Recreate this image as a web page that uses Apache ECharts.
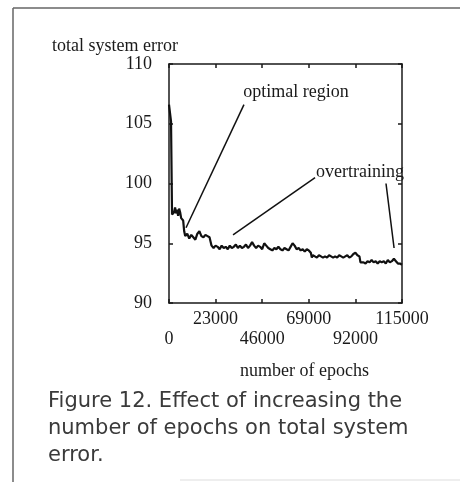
<!DOCTYPE html>
<html>
<head>
<meta charset="utf-8">
<script src="https://cdn.jsdelivr.net/npm/echarts@6/dist/echarts.min.js"></script>
<style>
  html, body { margin: 0; padding: 0; background: #fff; }
  #chart { width: 460px; height: 482px; }
</style>
</head>
<body>
<div id="chart"></div>
<script>
// Training run: total system error recorded against epoch count
const epochs = [
  0, 500, 1000, 1500, 2500, 3000, 3500, 4000, 4500, 5000, 5500, 6000, 7000, 7500, 8000,
  9000, 10000, 11000, 12000, 13000, 14000, 15000, 16000, 17000, 18000, 19000, 20000,
  21000, 22000, 23000, 24000, 25000, 26000, 27000, 28000, 29000, 30000, 31000, 32000,
  33000, 34000, 35000, 36000, 37000, 38000, 39000, 40000, 41000, 42000, 43000, 44000,
  45000, 46000, 47000, 48000, 49000, 50000, 51000, 52000, 53000, 54000, 55000, 56000,
  57000, 58000, 59000, 60000, 61000, 62000, 63000, 64000, 65000, 66000, 67000, 68000,
  69000, 70000, 70500, 71000, 72000, 73000, 74000, 75000, 76000, 77000, 78000, 79000,
  80000, 81000, 82000, 83000, 84000, 85000, 86000, 87000, 88000, 89000, 90000, 91000,
  92000, 93000, 94000, 94500, 95000, 96000, 97000, 98000, 99000, 100000, 101000, 102000,
  103000, 104000, 105000, 106000, 107000, 108000, 109000, 110000, 111000, 112000, 113000,
  114000, 115000
];
const systemError = [
  106.6, 106.7, 105.2, 97.4, 97.6, 98.0, 97.5, 97.8, 97.3, 97.9, 97.6, 97.1, 96.9, 96.0, 95.6,
  95.8, 95.4, 95.7, 95.5, 95.3, 95.8, 96.0, 95.6, 95.5, 95.7, 95.6, 95.5,
  94.8, 94.6, 94.8, 94.7, 94.5, 94.8, 94.6, 94.7, 94.5, 94.8, 94.6, 94.7,
  94.9, 94.6, 94.8, 94.6, 94.7, 94.9, 94.6, 94.8, 95.1, 94.8, 94.6, 94.8,
  94.7, 94.5, 95.0, 94.8, 94.6, 94.5, 94.4, 94.6, 94.5, 94.7, 94.5, 94.4,
  94.6, 94.5, 94.4, 94.7, 95.0, 94.8, 94.5, 94.6, 94.4, 94.5, 94.3, 94.5,
  94.4, 94.2, 93.8, 94.0, 93.9, 93.8, 94.0, 93.9, 93.8, 93.9, 93.8, 94.0,
  93.9, 93.8, 93.9, 93.8, 94.0, 93.9, 93.8, 93.9, 94.0, 93.8, 93.9, 94.1,
  94.2, 94.0, 93.9, 93.4, 93.3, 93.4, 93.3, 93.5, 93.4, 93.6, 93.4, 93.5,
  93.3, 93.5, 93.4, 93.5, 93.3, 93.6, 93.4, 93.5, 93.7, 93.5, 93.3,
  93.3, 93.2
];

// Axis ranges and ticks
const xMin = 0, xMax = 115000, xStep = 23000;
const yMin = 90, yMax = 110, yStep = 5;

// Callouts: text anchor and leader lines, in data units [epochs, error]
const callouts = [
  { text: 'optimal region', at: [62700, 107.6], lines: [[[37000, 106.6], [8400, 96.3]]] },
  { text: 'overtraining', at: [94300, 100.9], lines: [[[72100, 100.5], [31600, 95.7]], [[107100, 100.0], [111100, 94.6]]] }
];

const serif = '"Liberation Serif", "DejaVu Serif", serif';
const ink = '#1a1a1a';

const chart = echarts.init(document.getElementById('chart'), null, { renderer: 'canvas' });

const seriesData = epochs.map((e, i) => [e, systemError[i]]);

const leaderLines = [];
callouts.forEach(c => c.lines.forEach(l => leaderLines.push([{ coord: l[0] }, { coord: l[1] }])));

const axisBox = { show: true, onZero: false, lineStyle: { color: ink, width: 1.5 } };
const tickIn = { show: true, inside: true, length: 4, lineStyle: { color: ink, width: 1.5 } };
const isEvenTick = (v) => Math.round(v / xStep) % 2 === 0;
const xLabelBase = {
  color: ink, fontFamily: serif, fontSize: 18,
  showMinLabel: true, showMaxLabel: true, hideOverlap: false
};

chart.setOption({
  backgroundColor: '#ffffff',
  animation: false,
  grid: { left: 169, right: 58, top: 64, bottom: 179 },
  xAxis: [
    // bottom axis, upper row of labels (odd multiples of the step)
    {
      type: 'value', min: xMin, max: xMax, interval: xStep,
      axisLine: axisBox, axisTick: tickIn, splitLine: { show: false },
      axisLabel: Object.assign({}, xLabelBase, { margin: 7, formatter: (v) => (isEvenTick(v) ? '' : String(v)) })
    },
    // mirrored top edge
    {
      type: 'value', position: 'top', min: xMin, max: xMax, interval: xStep,
      axisLine: axisBox, axisTick: tickIn, axisLabel: { show: false }, splitLine: { show: false }
    },
    // bottom axis, lower row of labels (even multiples of the step)
    {
      type: 'value', position: 'bottom', min: xMin, max: xMax, interval: xStep,
      axisLine: { show: false }, axisTick: { show: false }, splitLine: { show: false },
      axisLabel: Object.assign({}, xLabelBase, { margin: 27, formatter: (v) => (isEvenTick(v) ? String(v) : '') })
    }
  ],
  yAxis: [
    {
      type: 'value', min: yMin, max: yMax, interval: yStep,
      axisLine: axisBox, axisTick: tickIn, splitLine: { show: false },
      axisLabel: {
        margin: 17, color: ink, fontFamily: serif, fontSize: 18, padding: [8, 0, 0, 0],
        showMinLabel: true, showMaxLabel: true
      }
    },
    {
      type: 'value', position: 'right', min: yMin, max: yMax, interval: yStep,
      axisLine: axisBox, axisTick: tickIn, axisLabel: { show: false }, splitLine: { show: false }
    }
  ],
  series: [
    {
      type: 'line',
      data: seriesData,
      showSymbol: false,
      lineStyle: { color: '#111', width: 2.2 },
      markLine: {
        silent: true,
        symbol: ['none', 'none'],
        label: { show: false },
        lineStyle: { color: '#111', width: 1.5, type: 'solid' },
        data: leaderLines
      }
    }
  ],
  graphic: [
    // page frame
    { id: 'frameTop', type: 'line', shape: { x1: 13, y1: 8, x2: 460, y2: 8 }, style: { stroke: '#666', lineWidth: 1.5 } },
    { id: 'frameLeft', type: 'line', shape: { x1: 13, y1: 8, x2: 13, y2: 482 }, style: { stroke: '#666', lineWidth: 1.5 } },
    { id: 'frameBottom', type: 'line', shape: { x1: 180, y1: 480, x2: 460, y2: 480 }, style: { stroke: '#ddd', lineWidth: 1 } },
    // axis titles
    { id: 'yTitle', type: 'text', left: 52, top: 37, style: { text: 'total system error', font: '18px ' + serif, fill: ink } },
    { id: 'xTitle', type: 'text', left: 240, top: 362, style: { text: 'number of epochs', font: '18px ' + serif, fill: ink } },
    // caption
    {
      id: 'caption', type: 'text', left: 48, top: 388,
      style: {
        text: 'Figure 12. Effect of increasing the\nnumber of epochs on total system\nerror.',
        font: '21px "DejaVu Sans", sans-serif', fill: '#3a3a3a', lineHeight: 27
      }
    }
  ]
});

// Place callout texts at their data anchors
const calloutTexts = callouts.map((c, i) => {
  const p = chart.convertToPixel({ gridIndex: 0 }, c.at);
  return {
    id: 'callout' + i, type: 'text', x: p[0], y: p[1],
    style: { text: c.text, font: '18px ' + serif, fill: ink, align: 'center', verticalAlign: 'middle' }
  };
});
chart.setOption({ graphic: calloutTexts });
</script>
</body>
</html>
